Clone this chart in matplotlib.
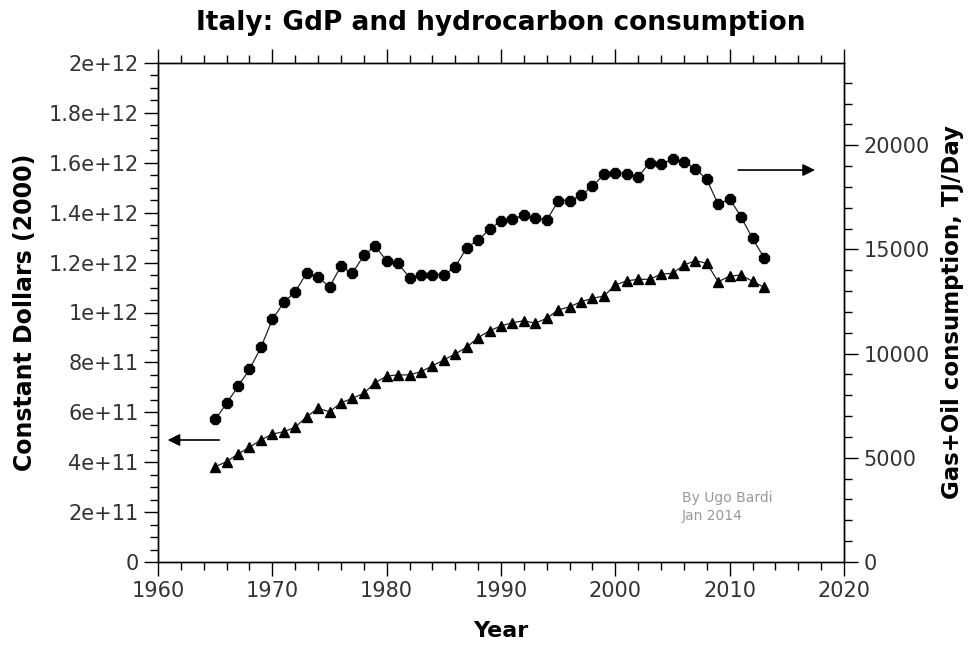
import matplotlib
matplotlib.use('Agg')
import matplotlib.pyplot as plt
from matplotlib.ticker import MultipleLocator, FuncFormatter

# DATA
years = list(range(1965, 2014))

# GDP, constant 2000 dollars (left axis, triangles)
gdp = [0.382e12, 0.402e12, 0.433e12, 0.460e12, 0.489e12, 0.513e12, 0.522e12, 0.540e12,
       0.582e12, 0.616e12, 0.602e12, 0.638e12, 0.656e12, 0.676e12, 0.719e12, 0.745e12,
       0.750e12, 0.750e12, 0.763e12, 0.786e12, 0.810e12, 0.834e12, 0.861e12, 0.899e12,
       0.927e12, 0.946e12, 0.959e12, 0.967e12, 0.957e12, 0.977e12, 1.010e12, 1.023e12,
       1.043e12, 1.057e12, 1.066e12, 1.110e12, 1.127e12, 1.133e12, 1.133e12, 1.154e12,
       1.157e12, 1.190e12, 1.208e12, 1.197e12, 1.123e12, 1.146e12, 1.150e12, 1.125e12,
       1.101e12]

# gas + oil consumption, TJ/day (right axis, circles)
hydrocarbons = [6840, 7610, 8440, 9240, 10300, 11640, 12460, 12960, 13880, 13680,
                13200, 14200, 13850, 14720, 15160, 14450, 14330, 13650, 13770, 13770,
                13770, 14160, 15090, 15440, 15970, 16370, 16480, 16640, 16530, 16400,
                17330, 17330, 17600, 18030, 18600, 18690, 18610, 18480, 19170, 19120,
                19330, 19200, 18880, 18360, 17160, 17440, 16560, 15530, 14610]

title = 'Italy: GdP and hydrocarbon consumption'
credit = 'By Ugo Bardi\nJan 2014'

fig = plt.figure(figsize=(9.69, 6.46), dpi=100)
ax = fig.add_axes([158/969, 1-562/646, (844-158)/969, (562-63)/646])
ax2 = ax.twinx()

ax.plot(years, gdp, color='#222222', lw=0.9, marker='^', ms=7.5,
        mfc='black', mec='black', zorder=3)
ax2.plot(years, hydrocarbons, color='#222222', lw=0.9, marker='8', ms=8,
         mfc='black', mec='black', zorder=3)

# axes ranges / ticks
ax.set_xlim(1960, 2020)
ax.set_ylim(0, 2e12)
ax2.set_ylim(0, 23950)
ax.xaxis.set_major_locator(MultipleLocator(10))
ax.xaxis.set_minor_locator(MultipleLocator(2))
ax.yaxis.set_major_locator(MultipleLocator(2e11))
ax.yaxis.set_minor_locator(MultipleLocator(5e10))
ax.yaxis.set_major_formatter(FuncFormatter(lambda v, p: '%g' % v))
ax2.yaxis.set_major_locator(MultipleLocator(5000))
ax2.yaxis.set_minor_locator(MultipleLocator(1000))

for a in (ax, ax2):
    for s in a.spines.values():
        s.set_linewidth(1.0)
ax.tick_params(axis='x', which='both', top=True, direction='out')
ax.tick_params(which='major', length=10, width=1.0, labelsize=15, labelcolor='#333333', pad=4)
ax.tick_params(which='minor', length=5.5, width=1.0)
ax2.tick_params(which='major', length=10, width=1.0, labelsize=15, labelcolor='#333333', pad=4)
ax2.tick_params(which='minor', length=5.5, width=1.0)

ax.set_title(title, fontsize=19, fontweight='bold', pad=24)
ax.set_xlabel('Year', fontsize=16, fontweight='bold', labelpad=14)
ax.set_ylabel('Constant Dollars (2000)', fontsize=17, fontweight='bold', labelpad=8)
ax2.set_ylabel('Gas+Oil consumption, TJ/Day', fontsize=16.5, fontweight='bold', labelpad=8)

ax.text(0.764, 0.143, credit, transform=ax.transAxes, fontsize=10,
        color='#999999', va='top', ha='left', linespacing=1.4)

# arrows pointing to the axes
ax.annotate('', xy=(1960.6, 0.489e12), xytext=(1965.6, 0.489e12),
            arrowprops=dict(arrowstyle='-|>', color='black', lw=1.2, mutation_scale=18))
ax.annotate('', xy=(2017.7, 1.571e12), xytext=(2010.5, 1.571e12),
            arrowprops=dict(arrowstyle='-|>', color='black', lw=1.2, mutation_scale=18))

fig.savefig('out.png', dpi=100)
